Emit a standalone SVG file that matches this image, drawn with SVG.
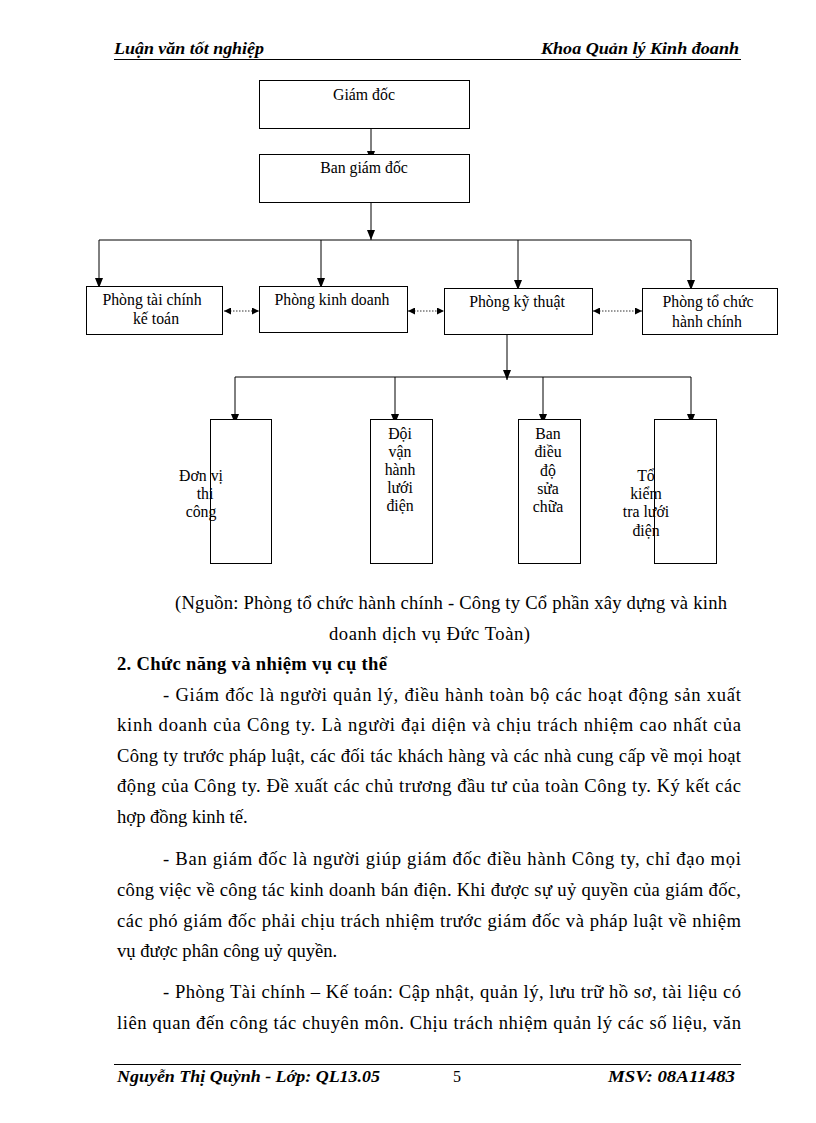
<svg xmlns="http://www.w3.org/2000/svg" width="816" height="1123" viewBox="0 0 816 1123">
<defs>
<style>
.bg{fill:#fff}
.box{fill:#fff;stroke:#000;stroke-width:1}
.ln{fill:none;stroke:#000;stroke-width:1}
.dot{fill:none;stroke:#333;stroke-width:1;stroke-dasharray:1.5 1.5}
.t{font-family:"Liberation Serif","Times New Roman",serif;font-size:15.8px;fill:#000;text-anchor:middle}
.b{font-family:"Liberation Serif","Times New Roman",serif;font-size:18.6px;fill:#000}
.h{font-family:"Liberation Serif","Times New Roman",serif;font-size:16px;font-weight:bold;font-style:italic;fill:#000}
.rule{stroke:#000;stroke-width:1}
</style>
<marker id="ah" viewBox="0 0 10 8" refX="10" refY="4" markerWidth="10" markerHeight="8" markerUnits="userSpaceOnUse" orient="auto">
<path d="M0,0 L10,4 L0,8 z" fill="#000"/>
</marker>
<marker id="sh" viewBox="0 0 7 7" refX="7" refY="3.5" markerWidth="7" markerHeight="7" markerUnits="userSpaceOnUse" orient="auto-start-reverse">
<path d="M0,0 L7,3.5 L0,7 z" fill="#000"/>
</marker>
</defs>
<rect class="bg" x="0" y="0" width="816" height="1123"/>

<g id="header">
<text class="h" x="114" y="54" textLength="150" lengthAdjust="spacingAndGlyphs">Luận văn tốt nghiệp</text>
<text class="h" x="541" y="54" textLength="198" lengthAdjust="spacingAndGlyphs">Khoa Quản lý Kinh đoanh</text>
<line class="rule" x1="114" y1="59.5" x2="741" y2="59.5"/>
</g>

<g id="connectors">
<line class="ln" x1="371" y1="128" x2="371" y2="161" marker-end="url(#ah)"/>
<line class="ln" x1="371" y1="202" x2="371" y2="240" marker-end="url(#ah)"/>
<line class="ln" x1="99" y1="240" x2="691" y2="240"/>
<line class="ln" x1="99" y1="240" x2="99" y2="288" marker-end="url(#ah)"/>
<line class="ln" x1="321" y1="240" x2="321" y2="288" marker-end="url(#ah)"/>
<line class="ln" x1="518" y1="240" x2="518" y2="290" marker-end="url(#ah)"/>
<line class="ln" x1="691" y1="240" x2="691" y2="290" marker-end="url(#ah)"/>
<line class="dot" x1="224" y1="311" x2="259" y2="311" marker-start="url(#sh)" marker-end="url(#sh)"/>
<line class="dot" x1="408" y1="311" x2="444" y2="311" marker-start="url(#sh)" marker-end="url(#sh)"/>
<line class="dot" x1="593" y1="311" x2="642" y2="311" marker-start="url(#sh)" marker-end="url(#sh)"/>
<line class="ln" x1="507" y1="334" x2="507" y2="380" marker-end="url(#ah)"/>
<line class="ln" x1="235" y1="377" x2="691" y2="377"/>
<line class="ln" x1="235" y1="377" x2="235" y2="424" marker-end="url(#ah)"/>
<line class="ln" x1="395" y1="377" x2="395" y2="424" marker-end="url(#ah)"/>
<line class="ln" x1="543" y1="377" x2="543" y2="424" marker-end="url(#ah)"/>
<line class="ln" x1="691" y1="377" x2="691" y2="424" marker-end="url(#ah)"/>
</g>

<g id="giam-doc">
<rect class="box" x="259.5" y="80.5" width="210" height="48"/>
<text class="t" x="364" y="100">Giám  đốc</text>
</g>
<g id="ban-giam-doc">
<rect class="box" x="259.5" y="154.5" width="210" height="48"/>
<text class="t" x="364" y="173">Ban giám  đốc</text>
</g>
<g id="phong-tai-chinh">
<rect class="box" x="86.5" y="286.5" width="136" height="48"/>
<text class="t" x="152" y="305">Phòng tài chính</text>
<text class="t" x="156" y="324">kế toán</text>
</g>
<g id="phong-kinh-doanh">
<rect class="box" x="259.5" y="286.5" width="148" height="46"/>
<text class="t" x="332" y="305">Phòng kinh  doanh</text>
</g>
<g id="phong-ky-thuat">
<rect class="box" x="444.5" y="288.5" width="148" height="46"/>
<text class="t" x="517" y="307">Phòng  kỹ thuật</text>
</g>
<g id="phong-to-chuc">
<rect class="box" x="642.5" y="288.5" width="135" height="46"/>
<text class="t" x="708" y="307">Phòng tổ chức</text>
<text class="t" x="707" y="327">hành  chính</text>
</g>

<g id="don-vi-thi-cong">
<rect class="box" x="210.5" y="419.5" width="61" height="144"/>
<text class="t" x="201" y="481">Đơn vị</text>
<text class="t" x="205" y="499">thi</text>
<text class="t" x="201" y="517">công</text>
</g>
<g id="doi-van-hanh">
<rect class="box" x="370.5" y="419.5" width="62" height="144"/>
<text class="t" x="400" y="439">Đội</text>
<text class="t" x="400" y="457">vận</text>
<text class="t" x="400" y="475">hành</text>
<text class="t" x="400" y="493">lưới</text>
<text class="t" x="400" y="511">điện</text>
</g>
<g id="ban-dieu-do">
<rect class="box" x="518.5" y="419.5" width="62" height="144"/>
<text class="t" x="548" y="439">Ban</text>
<text class="t" x="548" y="457">điều</text>
<text class="t" x="548" y="476">độ</text>
<text class="t" x="548" y="494">sửa</text>
<text class="t" x="548" y="512">chữa</text>
</g>
<g id="to-kiem-tra">
<rect class="box" x="654.5" y="419.5" width="62" height="144"/>
<text class="t" x="646" y="481">Tổ</text>
<text class="t" x="646" y="499">kiểm</text>
<text class="t" x="646" y="517">tra lưới</text>
<text class="t" x="646" y="536">điện</text>
</g>

<g id="body">
<text class="b" x="175" y="609" textLength="552" lengthAdjust="spacing">(Nguồn: Phòng tổ chức hành chính - Công ty Cổ phần xây dựng và kinh</text>
<text class="b" x="329" y="640" textLength="201" lengthAdjust="spacing">doanh dịch vụ Đức Toàn)</text>
<text class="b" x="117" y="670" font-weight="bold" textLength="270" lengthAdjust="spacing">2. Chức năng và nhiệm vụ cụ thể</text>
<text class="b" x="163" y="701" textLength="578" lengthAdjust="spacing">- Giám đốc là người quản lý, điều hành toàn bộ các hoạt động sản xuất</text>
<text class="b" x="117" y="731" textLength="624" lengthAdjust="spacing">kinh  doanh của Công ty. Là người đại diện và chịu trách nhiệm cao nhất của</text>
<text class="b" x="117" y="762" textLength="624" lengthAdjust="spacing">Công ty trước pháp luật, các đối tác khách hàng và các nhà cung cấp về mọi hoạt</text>
<text class="b" x="117" y="792" textLength="624" lengthAdjust="spacing">động của Công ty. Đề xuất các chủ trương đầu tư của toàn Công ty. Ký kết các</text>
<text class="b" x="117" y="823">hợp đồng kinh tế.</text>
<text class="b" x="163" y="865" textLength="578" lengthAdjust="spacing">- Ban giám đốc là người giúp giám đốc điều hành Công ty, chỉ đạo mọi</text>
<text class="b" x="117" y="896" textLength="624" lengthAdjust="spacing">công việc về công tác kinh doanh bán điện. Khi được sự uỷ quyền của giám đốc,</text>
<text class="b" x="117" y="927" textLength="624" lengthAdjust="spacing">các phó giám đốc phải chịu trách nhiệm trước giám đốc và pháp luật về nhiệm</text>
<text class="b" x="117" y="957">vụ được phân công uỷ quyền.</text>
<text class="b" x="163" y="998" textLength="578" lengthAdjust="spacing">- Phòng Tài chính – Kế toán: Cập nhật, quản lý, lưu trữ hồ sơ, tài liệu có</text>
<text class="b" x="117" y="1029" textLength="624" lengthAdjust="spacing">liên quan đến công tác chuyên môn. Chịu trách nhiệm quản lý các số liệu, văn</text>
</g>

<g id="footer">
<line class="rule" x1="114" y1="1064.5" x2="741" y2="1064.5"/>
<text class="h" x="117" y="1082" textLength="263" lengthAdjust="spacingAndGlyphs">Nguyễn  Thị Quỳnh - Lớp: QL13.05</text>
<text x="457" y="1082" font-family="Liberation Serif, serif" font-size="16" text-anchor="middle">5</text>
<text class="h" x="608" y="1082" textLength="127" lengthAdjust="spacingAndGlyphs">MSV: 08A11483</text>
</g>
</svg>
